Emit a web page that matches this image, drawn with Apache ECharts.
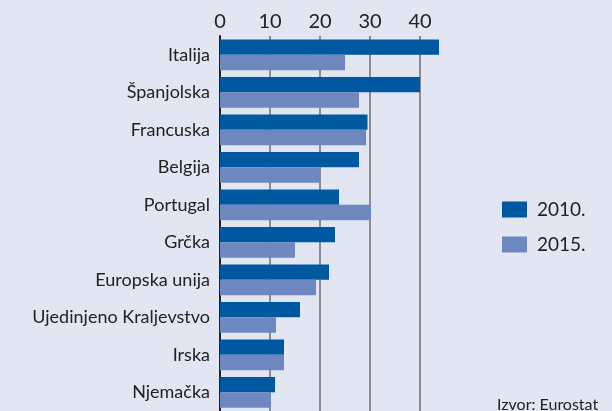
<!DOCTYPE html>
<html>
<head>
<meta charset="utf-8">
<script src="https://cdn.jsdelivr.net/npm/echarts@6/dist/echarts.min.js"></script>
<style>
  html, body { margin: 0; padding: 0; background: #e2e6f2; }
  #chart { width: 612px; height: 411px; }
</style>
</head>
<body>
<div id="chart"></div>
<script>
// podaci
const countries = ['Italija', 'Španjolska', 'Francuska', 'Belgija', 'Portugal', 'Grčka',
  'Europska unija', 'Ujedinjeno Kraljevstvo', 'Irska', 'Njemačka']
const values2010 = [43.8, 40, 29.5, 27.8, 23.8, 23, 21.8, 16, 12.8, 11]
const values2015 = [25, 27.8, 29.2, 20, 30.2, 15, 19.2, 11.2, 12.8, 10.2]
const seriesNames = ['2010.', '2015.']
const sourceText = 'Izvor: Eurostat'

const font = 'Lato, "Open Sans", sans-serif'
const chart = echarts.init(document.getElementById('chart'))

chart.setOption({
  backgroundColor: '#e2e6f2',
  animation: false,
  textStyle: { fontFamily: font, color: '#222' },
  grid: { left: 220, top: 36, width: 225, height: 380 },
  legend: {
    orient: 'vertical',
    left: 497,
    top: 195,
    itemWidth: 25,
    itemHeight: 16,
    itemGap: 16,
    icon: 'rect',
    data: seriesNames,
    textStyle: { fontSize: 19, color: '#222', fontFamily: font, padding: [0, 0, 0, 5] }
  },
  xAxis: {
    type: 'value',
    position: 'top',
    min: 0,
    max: 45,
    interval: 10,
    axisLine: { show: false },
    axisTick: { show: false },
    axisLabel: { fontSize: 20, color: '#222', margin: 4, showMaxLabel: false },
    splitLine: { show: true, showMaxLine: false, lineStyle: { color: '#6e6e72', width: 1.5 } }
  },
  yAxis: {
    type: 'category',
    inverse: true,
    data: countries,
    axisLine: { show: true, lineStyle: { color: '#222', width: 2 } },
    axisTick: { show: false },
    axisLabel: { fontSize: 18, color: '#222', margin: 10 }
  },
  series: [
    {
      name: seriesNames[0],
      type: 'bar',
      data: values2010,
      barGap: '0%',
      barCategoryGap: '18%',
      itemStyle: { color: '#0058a0' }
    },
    {
      name: seriesNames[1],
      type: 'bar',
      data: values2015,
      barGap: '0%',
      barCategoryGap: '18%',
      itemStyle: { color: '#6d88be' }
    }
  ],
  graphic: [{
    type: 'text',
    left: 497,
    top: 397,
    style: { text: sourceText, fontSize: 16, fill: '#222', fontFamily: font }
  }]
})
</script>
</body>
</html>
